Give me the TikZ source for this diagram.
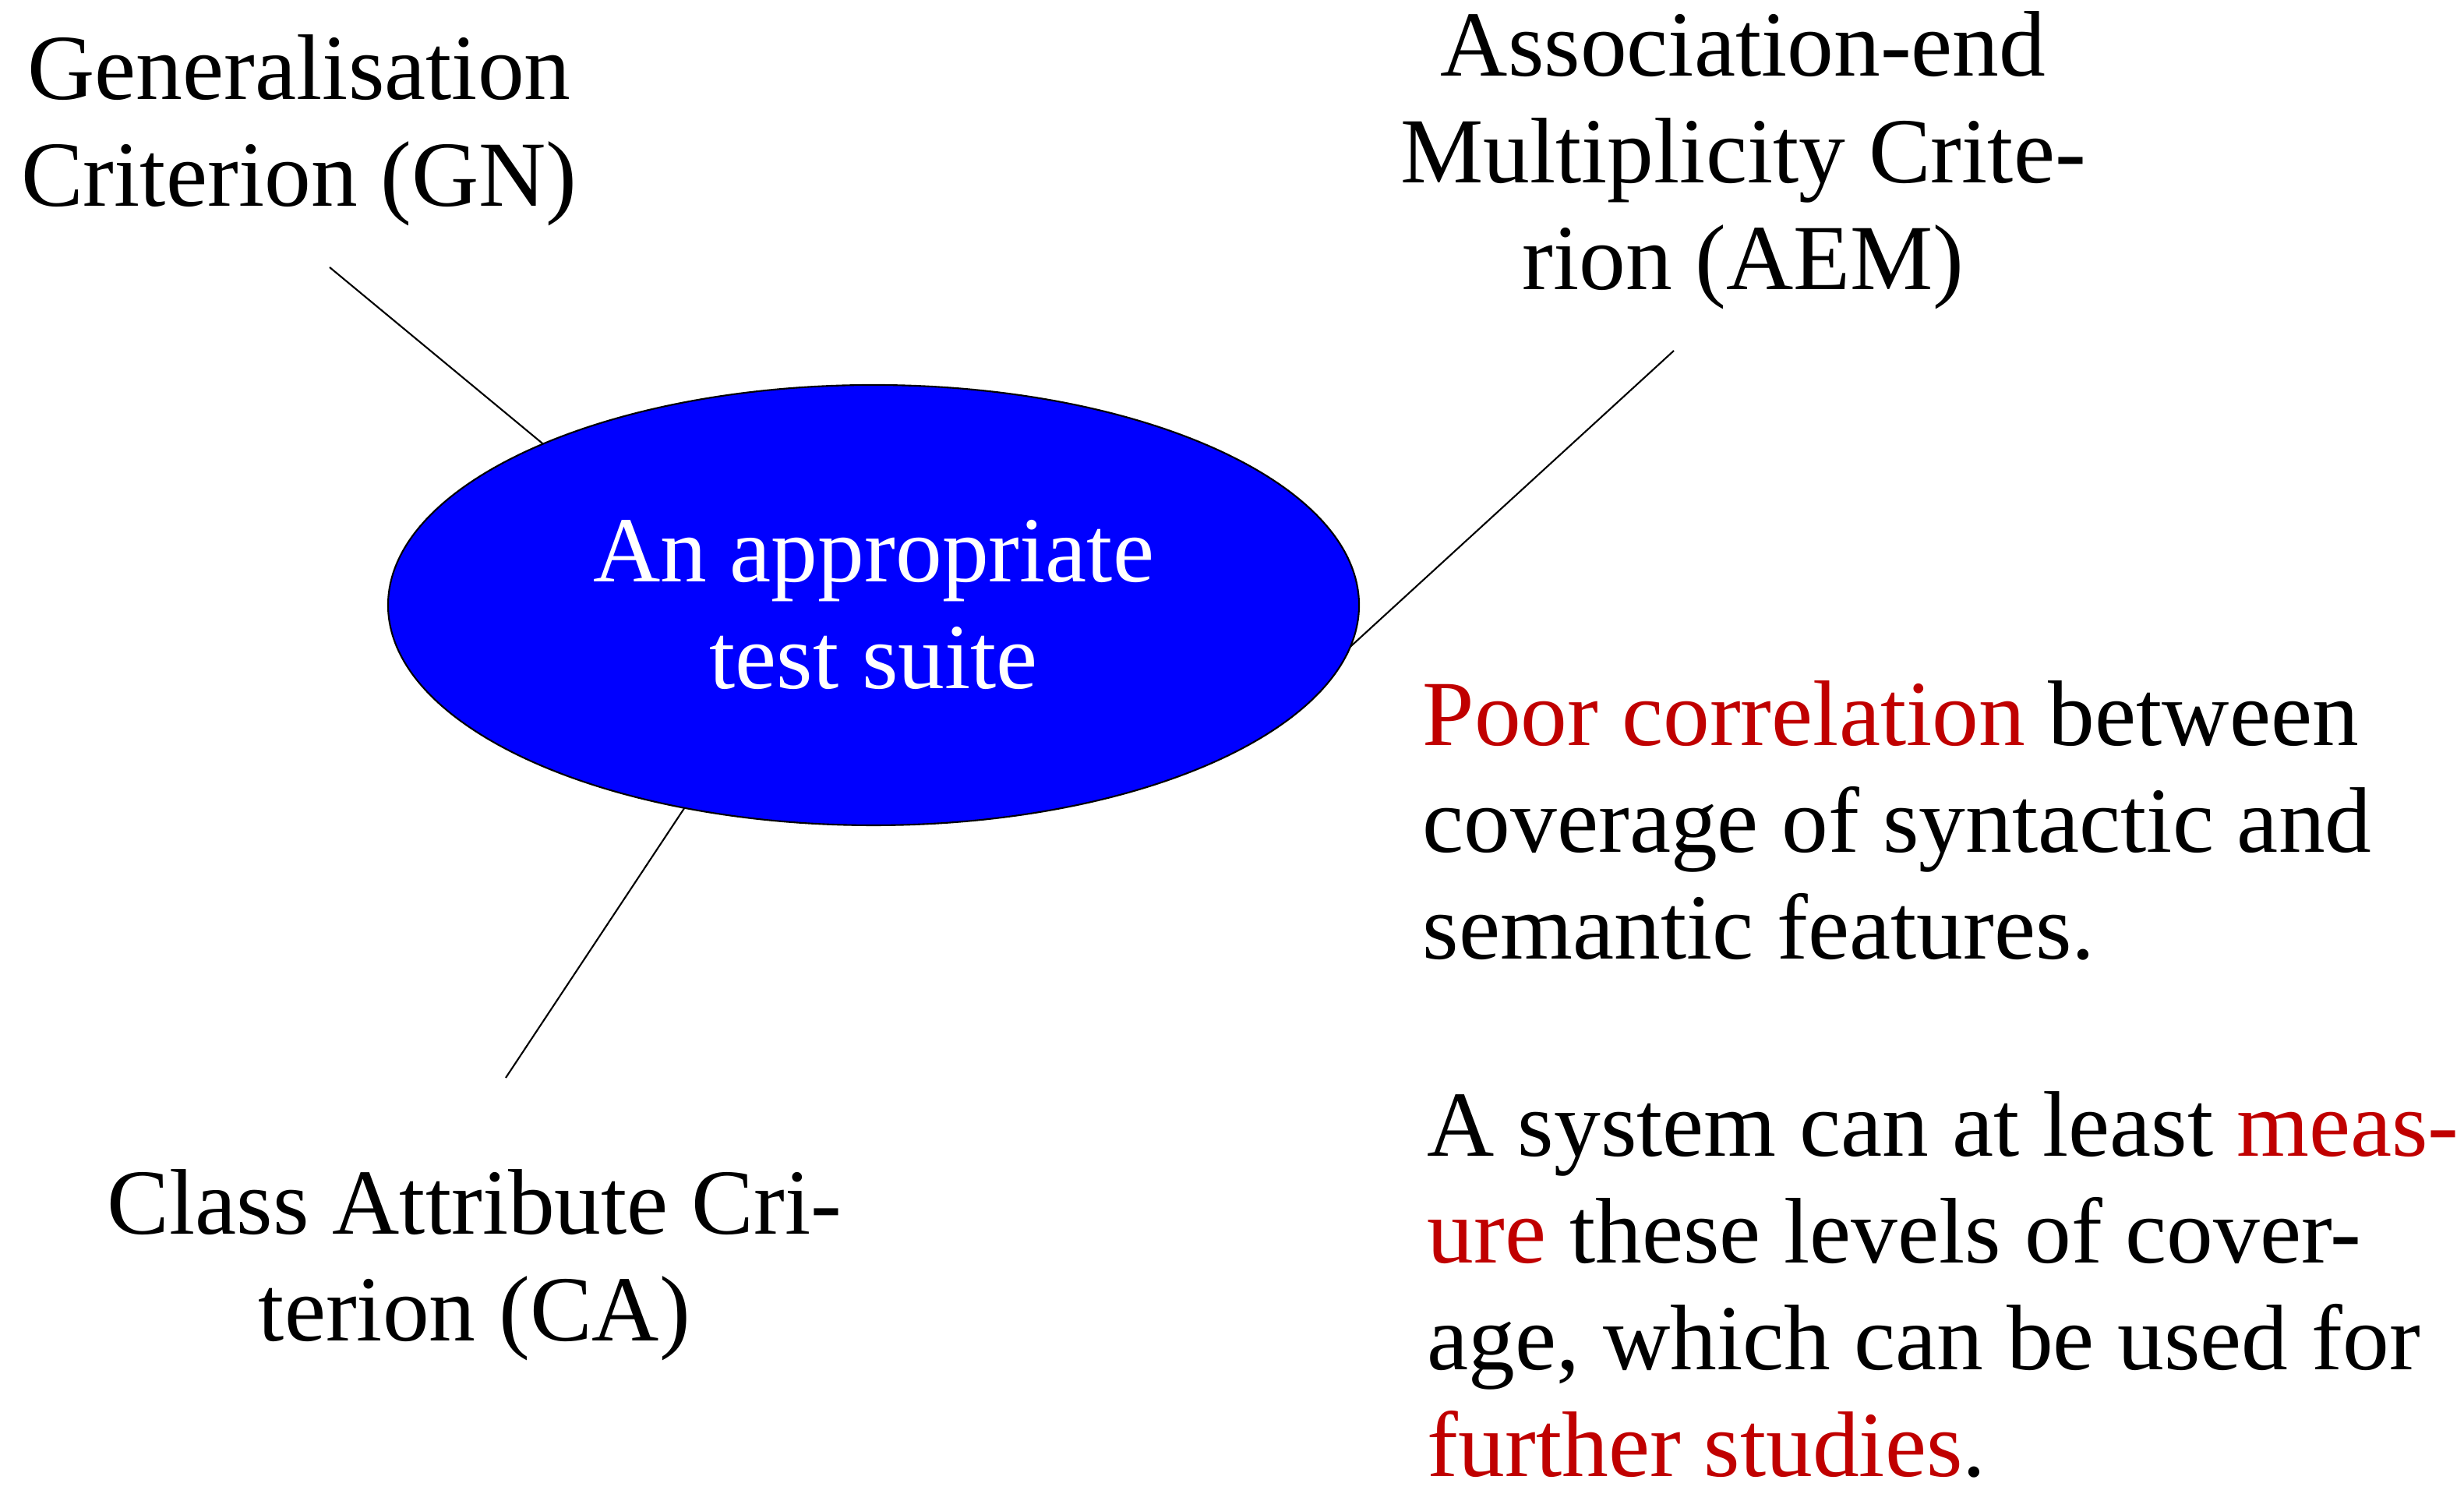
\documentclass[tikz,border=0pt]{standalone}
\usepackage{fontspec}
\setmainfont{Liberation Serif}
\usetikzlibrary{shapes.geometric}
\definecolor{suiteblue}{RGB}{0,0,255}
\definecolor{hotred}{RGB}{192,0,0}

\begin{document}
\begin{tikzpicture}[font=\fontsize{34}{39}\selectfont,
    crit/.style={align=center,anchor=base,inner sep=0pt},
    remark/.style={align=left,anchor=base west,inner sep=0pt}]
    \useasboundingbox (0,0) rectangle (31.62,19.35);
    % the test suite in the middle
    \node[shape=ellipse,draw=black,line width=0.6pt,fill=suiteblue,text=white,
          minimum width=12.46cm,minimum height=5.65cm,inner sep=0pt,outer sep=0pt,
          align=center] (S) at (11.21,11.585) {An appropriate\\test suite};
    % the three criteria (base = last line)
    \node[crit] (GN) at (3.84,16.70) {Generalisation\\Criterion (GN)};
    \node[crit] (AEM) at (22.37,15.63) {Association-end\\Multiplicity Crite-\\rion (AEM)};
    \node[crit] (CA) at (6.09,2.14) {Class Attribute Cri-\\terion (CA)};
    \coordinate (gn) at (4.23,15.92);
    \coordinate (aem) at (21.48,14.85);
    \coordinate (ca) at (6.49,5.52);
    \draw[line width=0.6pt] (gn) -- (S.154.3);
    \draw[line width=0.6pt] (aem) -- (S.355.7);
    \draw[line width=0.6pt] (ca) -- (S.227.3);
    % the two remarks on the right
    \node[remark] (P) at (18.25,7.04) {\textcolor{hotred}{Poor correlation} between\\
        coverage of syntactic and\\semantic features.};
    \node[remark] (M) at (18.31,0.40) {A system can at least \textcolor{hotred}{meas-}\\
        \textcolor{hotred}{ure} these levels of cover-\\age, which can be used for\\
        \textcolor{hotred}{further studies}.};
\end{tikzpicture}
\end{document}
